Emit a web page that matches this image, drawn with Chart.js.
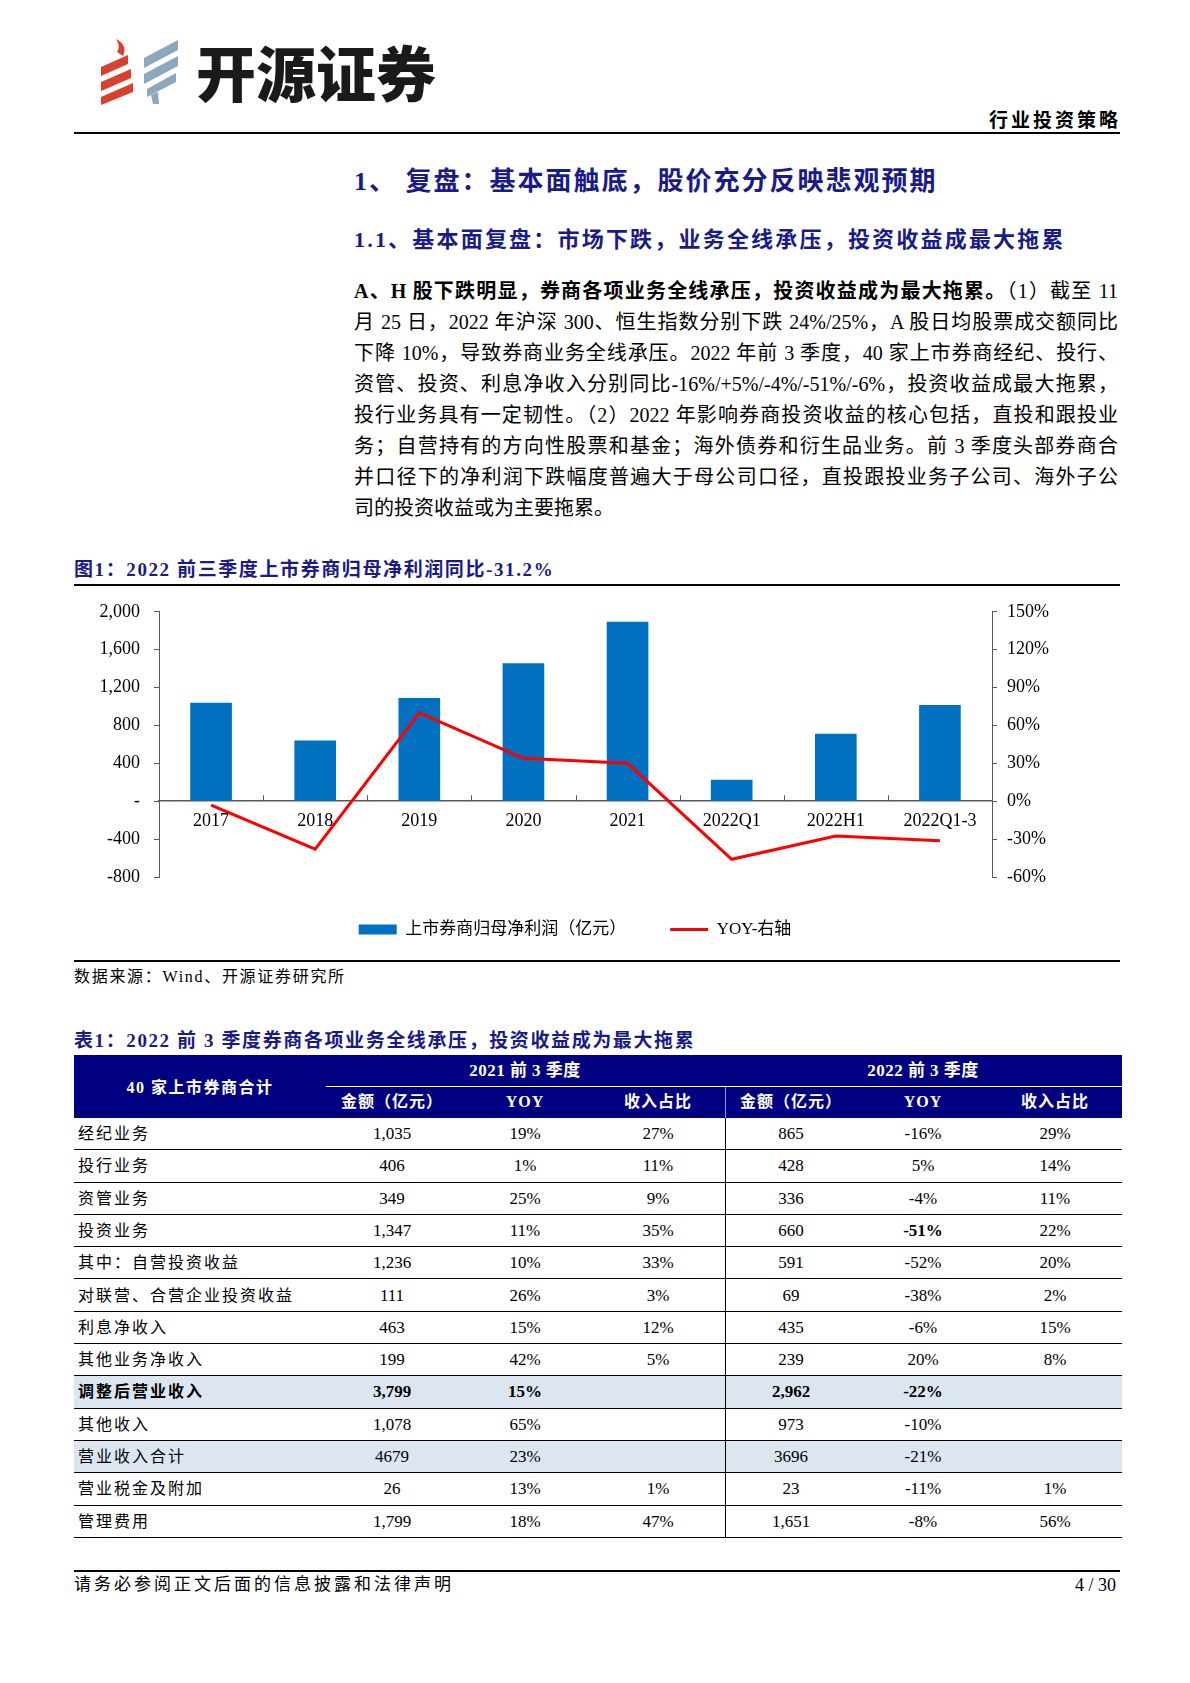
<!DOCTYPE html>
<html lang="zh-CN">
<head>
<meta charset="utf-8">
<title>复盘：基本面触底，股价充分反映悲观预期</title>
<script src="https://cdn.jsdelivr.net/npm/chart.js@4.4.1/dist/chart.umd.min.js"></script>
<style>
  html, body { margin: 0; padding: 0; background: #fff; }
  body {
    position: relative;
    width: 1190px;
    height: 1683px;
    overflow: hidden;
    color: #000;
    font-family: "Liberation Serif", "Noto Sans CJK SC", serif;
  }
  .abs { position: absolute; white-space: nowrap; }
  .navy { color: #1a1a8c; font-weight: bold; }
  .rule { position: absolute; left: 74px; width: 1046px; background: #000; }
  .brand {
    left: 196px; top: 41px;
    font-family: "Noto Sans CJK SC", sans-serif;
    font-size: 60px; font-weight: 900; line-height: 60px; color: #1a1a1a;
  }
  .pline {
    position: absolute; left: 354px; width: 764px; height: 31px; line-height: 31px;
    font-size: 20px; text-align: justify; text-align-last: justify;
  }
  .pline.last { text-align-last: left; }
  #chartBox { position: absolute; left: 60px; top: 587px; width: 1080px; height: 361px; }
  .trow { position: absolute; left: 74px; width: 1048px; box-sizing: border-box; border-bottom: 1.5px solid #000; }
  .trow.hl { background: #dce6f1; }
  .tlabel { position: absolute; white-space: nowrap; font-size: 16px; letter-spacing: 2px; }
  .tnum { position: absolute; white-space: nowrap; font-size: 17px; transform: translateX(-50%); }
  .thead { position: absolute; white-space: nowrap; color: #fff; font-weight: bold; transform: translateX(-50%); }
  .bold { font-weight: bold; }
</style>
</head>
<body>

<!-- header -->
<svg class="abs" style="left:0;top:0" width="200" height="120" viewBox="0 0 200 120">
  <g fill="#d9412f">
    <path d="M116 39 Q128 45 123 56 L117 52 Q121 46 116 39 Z"/>
    <polygon points="101,67 128,55 128,64 101,76"/>
    <polygon points="101,82 131,69 131,78 101,91"/>
    <polygon points="101,97 133,83 133,92 101,105"/>
  </g>
  <g fill="#8ea8bb">
    <polygon points="144,58 178,40 178,50 144,68"/>
    <polygon points="144,74 178,56 178,66 144,84"/>
    <polygon points="147,89 176,73 176,82 147,97"/>
    <polygon points="151,95 158,92 159,104 153,104"/>
  </g>
</svg>
<div class="abs brand">开源证券</div>
<div class="abs" style="right:69px;top:109px;line-height:24px;font-size:19px;font-weight:bold;letter-spacing:3px;">行业投资策略</div>
<div class="rule" style="top:132px;height:2px;"></div>

<!-- headings -->
<div class="abs navy" style="left:354px;top:165px;line-height:34px;font-size:26px;letter-spacing:2px;">1、 复盘：基本面触底，股价充分反映悲观预期</div>
<div class="abs navy" style="left:354px;top:225px;line-height:30px;font-size:22px;letter-spacing:2.2px;">1.1、基本面复盘：市场下跌，业务全线承压，投资收益成最大拖累</div>

<!-- body text -->
<div class="pline" style="top:276px;"><b>A、H 股下跌明显，券商各项业务全线承压，投资收益成为最大拖累。</b>（1）截至 11</div>
<div class="pline" style="top:307px;">月 25 日，2022 年沪深 300、恒生指数分别下跌 24%/25%，A 股日均股票成交额同比</div>
<div class="pline" style="top:338px;">下降 10%，导致券商业务全线承压。2022 年前 3 季度，40 家上市券商经纪、投行、</div>
<div class="pline" style="top:369px;">资管、投资、利息净收入分别同比-16%/+5%/-4%/-51%/-6%，投资收益成最大拖累，</div>
<div class="pline" style="top:400px;">投行业务具有一定韧性。（2）2022 年影响券商投资收益的核心包括，直投和跟投业</div>
<div class="pline" style="top:431px;">务；自营持有的方向性股票和基金；海外债券和衍生品业务。前 3 季度头部券商合</div>
<div class="pline" style="top:462px;">并口径下的净利润下跌幅度普遍大于母公司口径，直投跟投业务子公司、海外子公</div>
<div class="pline last" style="top:493px;">司的投资收益或为主要拖累。</div>

<!-- figure -->
<div class="abs navy" style="left:74px;top:558px;line-height:24px;font-size:19px;letter-spacing:1.6px;">图1：2022 前三季度上市券商归母净利润同比-31.2%</div>
<div class="rule" style="top:584px;height:1.5px;"></div>
<div id="chartBox"><canvas id="profitChart"></canvas></div>
<div class="rule" style="top:960px;height:1.5px;"></div>
<div class="abs" style="left:74px;top:965px;line-height:24px;font-size:16px;letter-spacing:1.7px;">数据来源：Wind、开源证券研究所</div>

<!-- table -->
<div class="abs navy" style="left:74px;top:1029px;line-height:24px;font-size:19px;letter-spacing:1.6px;">表1：2022 前 3 季度券商各项业务全线承压，投资收益成为最大拖累</div>
<div id="table"></div>

<!-- footer -->
<div class="rule" style="top:1570px;height:2px;"></div>
<div class="abs" style="left:74px;top:1573px;line-height:24px;font-size:17px;letter-spacing:3px;">请务必参阅正文后面的信息披露和法律声明</div>
<div class="abs" style="right:74px;top:1573px;line-height:24px;font-size:18px;">4 / 30</div>

<script>
// Chart data
const categories = ["2017", "2018", "2019", "2020", "2021", "2022Q1", "2022H1", "2022Q1-3"];
const netProfit = [1040, 642, 1090, 1457, 1894, 226, 712, 1016]; // 亿元
const yoyPct = [-3, -38, 70, 34, 30, -46, -27.5, -31.2]; // %
const leftTickValues = [-800, -400, 0, 400, 800, 1200, 1600, 2000];
const rightTickValues = [-60, -30, 0, 30, 60, 90, 120, 150];
const seriesNames = ["上市券商归母净利润（亿元）", "YOY-右轴"];

// Table data
const tableRowLabels = [
  "经纪业务", "投行业务", "资管业务", "投资业务", "其中：自营投资收益",
  "对联营、合营企业投资收益", "利息净收入", "其他业务净收入", "调整后营业收入",
  "其他收入", "营业收入合计", "营业税金及附加", "管理费用",
];
const amount2021 = ["1,035", "406", "349", "1,347", "1,236", "111", "463", "199", "3,799", "1,078", "4679", "26", "1,799"];
const yoy2021 = ["19%", "1%", "25%", "11%", "10%", "26%", "15%", "42%", "15%", "65%", "23%", "13%", "18%"];
const share2021 = ["27%", "11%", "9%", "35%", "33%", "3%", "12%", "5%", "", "", "", "1%", "47%"];
const amount2022 = ["865", "428", "336", "660", "591", "69", "435", "239", "2,962", "973", "3696", "23", "1,651"];
const yoy2022 = ["-16%", "5%", "-4%", "-51%", "-52%", "-38%", "-6%", "20%", "-22%", "-10%", "-21%", "-11%", "-8%"];
const share2022 = ["29%", "14%", "11%", "22%", "20%", "2%", "15%", "8%", "", "", "", "1%", "56%"];
const highlightRows = [8, 10];
const boldRows = [8];
const boldCells = ["3-4"]; // row-column

const subHeaders = ["金额（亿元）", "YOY", "收入占比"];
const groupHeaders = ["2021 前 3 季度", "2022 前 3 季度"];

// ---------- table ----------
const table = document.getElementById("table");
const bodyTop = 1118;
const rowH = 32.3;
const colCenters = [392, 525, 658, 791, 923, 1055];

function addEl(cls, text, styles) {
  const el = document.createElement("div");
  el.className = cls;
  el.textContent = text;
  Object.assign(el.style, styles);
  table.appendChild(el);
  return el;
}

// header block
addEl("abs", "", { left: "74px", top: "1055px", width: "1048px", height: "63px", background: "#000080" });
addEl("abs", "", { left: "326px", top: "1085.5px", width: "796px", height: "1.5px", background: "#fff" });
addEl("abs", "", { left: "725px", top: "1087px", width: "1px", height: "31px", background: "rgba(255,255,255,0.6)" });
addEl("thead", "40 家上市券商合计", { left: "200px", top: "1075px", lineHeight: "26px", fontSize: "16px", letterSpacing: "1.5px" });
groupHeaders.forEach((g, i) => {
  addEl("thead", g, { left: [525, 923][i] + "px", top: "1058px", lineHeight: "26px", fontSize: "17px", letterSpacing: "0.5px" });
});
colCenters.forEach((cx, i) => {
  addEl("thead", subHeaders[i % 3], { left: cx + "px", top: "1089px", lineHeight: "26px", fontSize: "16px", letterSpacing: "1px" });
});

// body rows
tableRowLabels.forEach((label, r) => {
  const top = bodyTop + r * rowH;
  addEl("trow" + (highlightRows.includes(r) ? " hl" : ""), "", { top: top + "px", height: rowH + "px" });
  const bold = boldRows.includes(r);
  addEl("tlabel" + (bold ? " bold" : ""), label, { left: "78px", top: top + "px", lineHeight: rowH + "px" });
  const values = [amount2021[r], yoy2021[r], share2021[r], amount2022[r], yoy2022[r], share2022[r]];
  values.forEach((v, c) => {
    const b = bold || boldCells.includes(r + "-" + c);
    addEl("tnum" + (b ? " bold" : ""), v, { left: colCenters[c] + "px", top: top + "px", lineHeight: rowH + "px" });
  });
});
addEl("abs", "", { left: "725px", top: bodyTop + "px", width: "1px", height: tableRowLabels.length * rowH + "px", background: "#000" });

// ---------- chart ----------
const serif = '"Liberation Serif", "Noto Sans CJK SC", serif';
Chart.defaults.font.family = serif;
Chart.defaults.color = "#000";

// short marks between categories, rising from the zero line
const categoryTicks = {
  id: "categoryTicks",
  afterDraw(chart) {
    const x = chart.scales.x;
    const zero = chart.scales.y.getPixelForValue(0);
    const c = chart.ctx;
    c.save();
    c.strokeStyle = "#595959";
    c.lineWidth = 1;
    c.beginPath();
    for (let i = 0; i < categories.length - 1; i++) {
      const px = Math.round((x.getPixelForValue(i) + x.getPixelForValue(i + 1)) / 2) + 0.5;
      c.moveTo(px, zero);
      c.lineTo(px, zero - 6);
    }
    c.stroke();
    c.restore();
  },
};

new Chart(document.getElementById("profitChart"), {
  type: "bar",
  data: {
    labels: categories,
    datasets: [
      {
        label: seriesNames[0],
        data: netProfit,
        backgroundColor: "#0070c0",
        borderWidth: 0,
        barPercentage: 0.4,
        categoryPercentage: 1.0,
        yAxisID: "y",
        order: 2,
      },
      {
        type: "line",
        label: seriesNames[1],
        data: yoyPct,
        borderColor: "#ff0000",
        backgroundColor: "#ff0000",
        borderWidth: 3,
        pointRadius: 0,
        pointStyle: "line",
        tension: 0,
        yAxisID: "y1",
        order: 1,
      },
    ],
  },
  options: {
    responsive: true,
    maintainAspectRatio: false,
    animation: false,
    layout: { padding: { top: 16, right: 50, bottom: 0, left: 0 } },
    plugins: {
      tooltip: { enabled: false },
      legend: {
        position: "bottom",
        labels: {
          usePointStyle: true,
          pointStyleWidth: 38,
          boxHeight: 10,
          padding: 44,
          color: "#000",
          font: { family: serif, size: 17 },
          generateLabels: (chart) =>
            Chart.defaults.plugins.legend.labels.generateLabels(chart).map((item) => ({
              ...item,
              pointStyle: item.datasetIndex === 0 ? "rect" : "line",
            })),
          sort: (a, b) => a.datasetIndex - b.datasetIndex,
        },
      },
    },
    scales: {
      x: {
        position: { y: 0 },
        z: 1,
        grid: { display: false, drawTicks: false },
        border: { color: "#595959", width: 1.5 },
        ticks: { font: { size: 18 }, padding: 9, maxRotation: 0, autoSkip: false },
        afterFit: (s) => { s.height = 17; },
      },
      y: {
        position: "left",
        min: -800,
        max: 2000,
        afterBuildTicks: (s) => { s.ticks = leftTickValues.map((v) => ({ value: v })); },
        ticks: {
          font: { size: 18 },
          padding: 14,
          callback: (v) => (v === 0 ? "-" : v.toLocaleString("en-US")),
        },
        grid: { drawOnChartArea: false, drawTicks: true, tickLength: 5, color: "#595959" },
        border: { color: "#595959", width: 1 },
        afterFit: (s) => { s.width = 99; },
      },
      y1: {
        position: "right",
        min: -60,
        max: 150,
        afterBuildTicks: (s) => { s.ticks = rightTickValues.map((v) => ({ value: v })); },
        ticks: {
          font: { size: 18 },
          padding: 10,
          callback: (v) => v + "%",
        },
        grid: { drawOnChartArea: false, drawTicks: true, tickLength: 5, color: "#595959" },
        border: { color: "#595959", width: 1 },
        afterFit: (s) => { s.width = 98; },
      },
    },
  },
  plugins: [categoryTicks],
});
</script>
</body>
</html>
